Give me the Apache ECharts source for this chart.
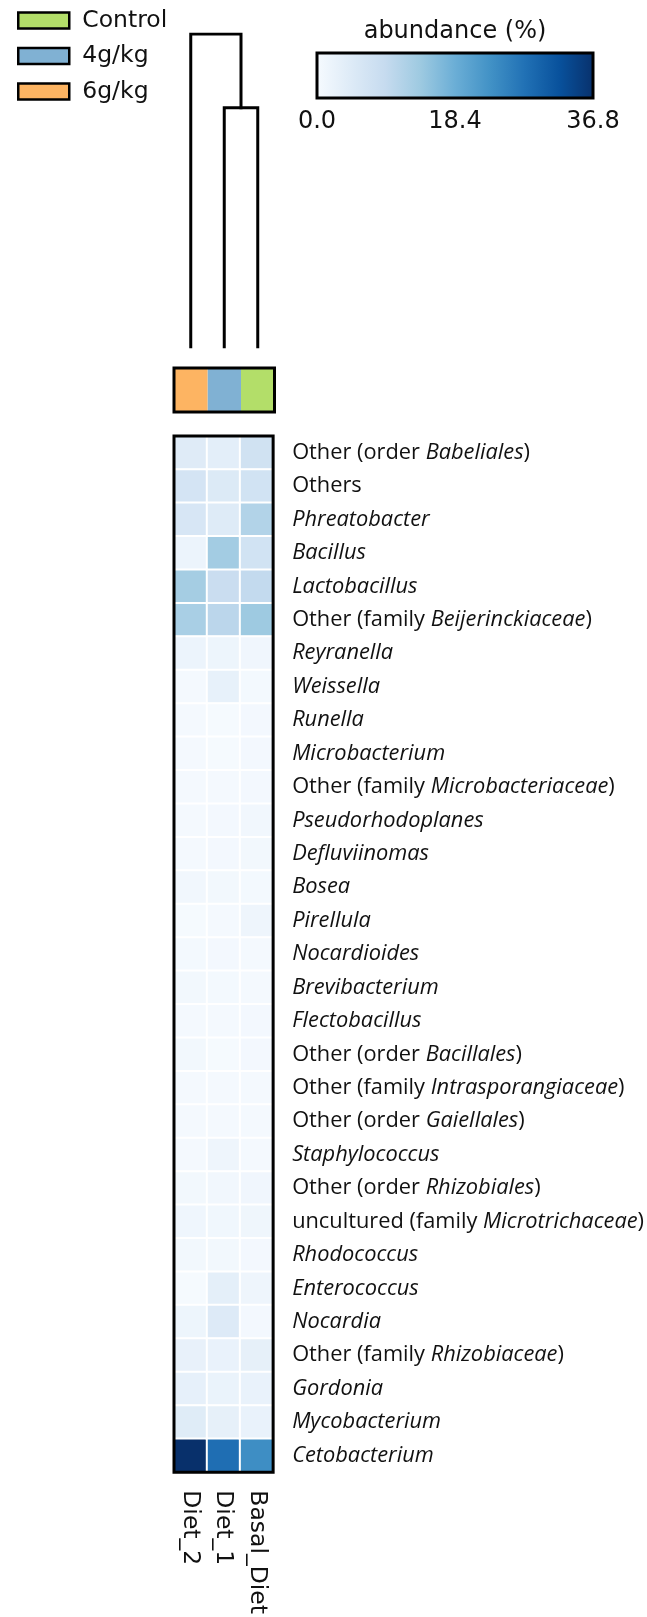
<!DOCTYPE html>
<html>
<head>
<meta charset="utf-8">
<script src="https://cdn.jsdelivr.net/npm/echarts@6/dist/echarts.min.js"></script>
<style>
  html, body { margin: 0; padding: 0; background: #fff; }
  #chart { width: 647px; height: 1617px; }
</style>
</head>
<body>
<div id="chart"></div>
<script>
// Samples (columns, left to right) and their treatment groups
const samples = ['Diet_2', 'Diet_1', 'Basal_Diet'];
const sampleGroup = ['6g/kg', '4g/kg', 'Control'];
const groupOrder = ['Control', '4g/kg', '6g/kg'];
const groupColors = { 'Control': '#b3de69', '4g/kg': '#80b1d3', '6g/kg': '#fdb462' };

// Taxa (rows, top to bottom)
const taxa = [
  'Other (order Babeliales)', 'Others', 'Phreatobacter', 'Bacillus', 'Lactobacillus',
  'Other (family Beijerinckiaceae)', 'Reyranella', 'Weissella', 'Runella', 'Microbacterium',
  'Other (family Microbacteriaceae)', 'Pseudorhodoplanes', 'Defluviinomas', 'Bosea', 'Pirellula',
  'Nocardioides', 'Brevibacterium', 'Flectobacillus', 'Other (order Bacillales)',
  'Other (family Intrasporangiaceae)', 'Other (order Gaiellales)', 'Staphylococcus',
  'Other (order Rhizobiales)', 'uncultured (family Microtrichaceae)', 'Rhodococcus',
  'Enterococcus', 'Nocardia', 'Other (family Rhizobiaceae)', 'Gordonia', 'Mycobacterium',
  'Cetobacterium'
];

// Relative abundance (%) per sample, same order as taxa
const diet2 = [4.5, 6.5, 6.0, 2.0, 13.0, 12.5, 2.0, 0.5, 0.5, 0.6, 0.5, 0.5, 0.5, 1.1, 0.3,
  0.7, 1.0, 0.6, 0.9, 0.6, 0.5, 0.6, 1.0, 1.4, 1.0, 0.4, 1.8, 2.8, 3.1, 4.4, 36.8];
const diet1 = [3.7, 4.9, 4.6, 13.2, 8.5, 10.5, 1.8, 3.0, 0.3, 0.4, 0.6, 0.8, 0.8, 1.0, 0.6,
  0.8, 0.7, 0.6, 0.4, 0.5, 0.5, 1.6, 1.1, 1.2, 1.0, 3.5, 4.8, 2.5, 2.4, 3.2, 28.0];
const basal = [7.3, 7.0, 11.5, 7.0, 9.5, 13.8, 1.3, 0.7, 0.8, 0.8, 0.8, 1.1, 1.0, 0.7, 1.6,
  0.6, 0.5, 0.8, 0.8, 0.6, 0.5, 0.5, 1.3, 1.5, 0.8, 1.6, 0.8, 3.2, 2.5, 2.5, 23.5];

// Colour scale limits and ticks
const scaleMax = 36.8;
const scaleTicks = [0, 18.4, 36.8];

// Sample clustering: leaves are sample indices, merges reference leaves or earlier clusters
const merges = [
  { a: 1, b: 2, height: 0.764 },
  { a: 0, b: 'c0', height: 1.0 }
];

const blues = ['#f7fbff', '#deebf7', '#c6dbef', '#9ecae1', '#6baed6', '#4292c6', '#2171b5', '#08519c', '#08306b'];

const heatData = [];
[diet2, diet1, basal].forEach((col, ci) => col.forEach((v, ri) => heatData.push([ci, ri, v])));

// Dendrogram segments from the merge list
function dendroLines() {
  const pos = {}; // node -> [x, height]
  samples.forEach((s, i) => pos[i] = [i, 0]);
  const lines = [];
  merges.forEach((m, k) => {
    const pa = pos[m.a], pb = pos[m.b];
    lines.push({ coords: [[pa[0], pa[1]], [pa[0], m.height], [pb[0], m.height], [pb[0], pb[1]]] });
    pos['c' + k] = [(pa[0] + pb[0]) / 2, m.height];
  });
  return lines;
}

function richLabel(name) {
  const m = name.match(/^(.*\((?:order|family) )(.+)(\))$/);
  if (m) return '{n|' + m[1] + '}{i|' + m[2] + '}{n|' + m[3] + '}';
  if (name === 'Others') return '{n|Others}';
  return '{i|' + name + '}';
}

const gx = 174, gw = 100.5;
const labelFont = 'Open Sans';
const mplFont = 'DejaVu Sans';

const chart = echarts.init(document.getElementById('chart'), null, { renderer: 'canvas' });

const stripSeries = groupOrder.map(g => ({
  name: g,
  type: 'bar',
  xAxisIndex: 1, yAxisIndex: 1,
  barWidth: '100%', barGap: '-100%',
  itemStyle: { color: groupColors[g] },
  silent: true,
  data: samples.map((s, i) => sampleGroup[i] === g ? 1 : '-')
}));

chart.setOption({
  animation: false,
  backgroundColor: '#fff',
  legend: {
    data: groupOrder,
    orient: 'vertical',
    left: 12, top: 3,
    icon: 'rect',
    itemWidth: 51, itemHeight: 16,
    itemGap: 10.5,
    itemStyle: { borderColor: '#000', borderWidth: 2.5 },
    textStyle: { fontFamily: mplFont, fontSize: 23.5, color: '#111', lineHeight: 25, padding: [0, 0, 0, 8] }
  },
  visualMap: {
    show: false, type: 'continuous', seriesIndex: 0,
    min: 0, max: scaleMax, inRange: { color: blues }
  },
  grid: [
    { left: gx, width: gw, top: 436, height: 1037, show: true, z: 10, borderColor: '#000', borderWidth: 3, backgroundColor: 'transparent' },
    { left: gx, width: gw, top: 368, height: 44, show: true, z: 10, borderColor: '#000', borderWidth: 3, backgroundColor: 'transparent' },
    { left: gx, width: gw, top: 34, height: 313 },
    { left: 317, width: 276, top: 53, height: 45 }
  ],
  xAxis: [
    { gridIndex: 0, type: 'category', data: samples, position: 'bottom',
      axisLine: { show: false }, axisTick: { show: false },
      axisLabel: { rotate: -90, margin: 18, fontFamily: mplFont, fontSize: 23.5, color: '#111' } },
    { gridIndex: 1, type: 'category', data: samples, show: false },
    { gridIndex: 2, type: 'value', min: -0.5, max: 2.5, show: false },
    { gridIndex: 3, type: 'value', min: 0, max: scaleMax, interval: scaleTicks[1], position: 'bottom',
      axisLine: { show: false }, splitLine: { show: false },
      axisTick: { show: true, inside: true, length: 12, lineStyle: { color: '#333', width: 1.5 } },
      axisLabel: { margin: 12, fontFamily: mplFont, fontSize: 24, color: '#111', formatter: v => v.toFixed(1) } },
    { gridIndex: 3, type: 'value', min: 0, max: scaleMax, position: 'top',
      name: 'abundance (%)', nameLocation: 'middle', nameGap: 9,
      nameTextStyle: { fontFamily: mplFont, fontSize: 24, color: '#111' },
      axisLine: { show: false }, axisTick: { show: false }, axisLabel: { show: false }, splitLine: { show: false } }
  ],
  yAxis: [
    { gridIndex: 0, type: 'category', data: taxa, inverse: true, position: 'right',
      axisLine: { show: false }, axisTick: { show: false },
      axisLabel: {
        margin: 19, formatter: richLabel,
        rich: {
          n: { fontFamily: labelFont, fontSize: 21.8, color: '#111' },
          i: { fontFamily: labelFont, fontSize: 21.8, color: '#111', fontStyle: 'italic' }
        }
      } },
    { gridIndex: 1, type: 'value', min: 0, max: 1, show: false },
    { gridIndex: 2, type: 'value', min: 0, max: 1, show: false },
    { gridIndex: 3, type: 'value', min: 0, max: 1, show: false }
  ],
  series: [
    {
      type: 'heatmap', xAxisIndex: 0, yAxisIndex: 0,
      data: heatData,
      itemStyle: { borderColor: '#fff', borderWidth: 2 },
      emphasis: { disabled: true }
    },
    ...stripSeries,
    {
      type: 'lines', coordinateSystem: 'cartesian2d', xAxisIndex: 2, yAxisIndex: 2,
      polyline: true, silent: true,
      lineStyle: { color: '#000', width: 3, opacity: 1, cap: 'square', join: 'miter' },
      data: dendroLines()
    },
    {
      type: 'custom', xAxisIndex: 3, yAxisIndex: 3, silent: true,
      data: [[0, scaleMax]],
      renderItem: function (params, api) {
        const p0 = api.coord([api.value(0), 1]);
        const p1 = api.coord([api.value(1), 0]);
        const stops = blues.map((c, i) => ({ offset: i / (blues.length - 1), color: c }));
        return {
          type: 'rect',
          shape: { x: p0[0], y: p0[1], width: p1[0] - p0[0], height: p1[1] - p0[1] },
          style: { fill: new echarts.graphic.LinearGradient(0, 0, 1, 0, stops), stroke: '#000', lineWidth: 3 },
          z2: 1
        };
      }
    }
  ]
});
</script>
</body>
</html>
